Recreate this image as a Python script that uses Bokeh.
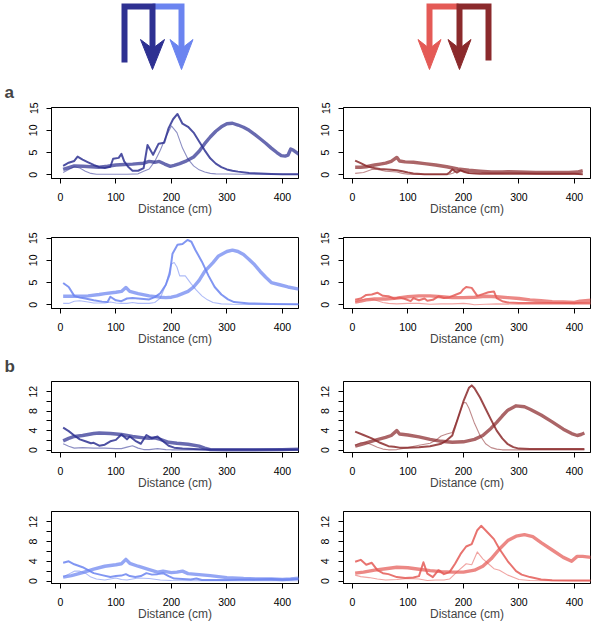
from bokeh.plotting import figure
from bokeh.layouts import column, row
from bokeh.models import Range1d, FixedTicker, Label
from bokeh.embed import file_html
from bokeh.resources import INLINE

# ---------------- data (distance in cm, value) ----------------
# section a, dark blue (top-left)
a_db_thick_x = [5,15,25,40,55,70,85,100,115,130,140,150,160,170,178,188,198,205,215,225,240,250,260,270,280,290,300,310,320,330,340,350,360,370,380,390,398,405,410,415,420,430]
a_db_thick_y = [1.2,1.6,2.0,1.9,1.8,1.7,1.9,2.2,2.3,2.4,2.5,2.6,3.0,2.8,3.0,2.4,1.9,2.1,2.5,3.0,4.0,5.3,7.0,8.5,9.8,10.8,11.5,11.6,11.2,10.7,10.0,9.1,8.1,7.1,6.0,5.0,4.3,4.2,4.4,5.8,5.5,4.6]
a_db_mid_x = [5,15,25,31,40,50,60,70,80,90,95,105,110,115,122,130,140,150,157,167,177,187,195,203,211,220,230,240,250,260,270,280,290,300,310,320,340,360,380,400,430]
a_db_mid_y = [2.0,2.7,3.1,4.1,3.4,2.8,2.2,1.7,1.5,1.8,3.6,3.8,4.7,3.0,1.8,0.9,0.9,1.5,6.7,4.5,7.0,7.2,10.5,12.5,13.7,11.5,10.8,9.5,7.5,5.5,3.7,2.5,1.7,1.2,0.9,0.7,0.4,0.25,0.15,0.1,0.1]
a_db_thin_x = [5,15,25,35,45,55,65,80,100,120,140,150,160,170,180,190,200,210,220,230,240,250,260,270,280,300,330,360,400,430]
a_db_thin_y = [0.5,1.2,1.8,1.5,0.8,0.3,0.1,0.1,0.1,0.1,0.2,0.8,1.3,3.0,5.5,8.5,11.0,9.5,6.0,3.5,2.0,1.1,0.6,0.3,0.2,0.15,0.1,0.1,0.1,0.1]

# section a, dark red (top-right)
a_dr_thick_x = [5,15,25,40,50,60,70,80,85,95,110,130,150,170,190,210,230,250,270,280,300,330,360,390,405,415]
a_dr_thick_y = [1.7,1.7,1.8,2.2,2.4,2.6,3.0,3.9,3.1,2.9,2.8,2.5,2.2,1.8,1.3,1.0,0.8,0.6,0.6,0.7,0.6,0.5,0.5,0.5,0.6,0.9]
a_dr_mid_x = [5,15,25,35,50,70,80,90,100,110,130,150,170,175,180,188,195,202,210,230,250,280,300,350,400,415]
a_dr_mid_y = [3.2,2.6,2.0,1.6,1.3,1.1,1.0,0.8,0.5,0.3,0.1,0.1,0.1,0.5,1.2,0.5,1.0,0.6,0.4,0.3,0.3,0.3,0.3,0.2,0.2,0.1]
a_dr_thin_x = [5,20,35,45,60,80,90,100,120,150,175,182,190,200,210,230,260,300,350,415]
a_dr_thin_y = [0.3,0.5,1.2,1.2,0.8,0.6,0.3,0.1,0.05,0.05,0.1,0.4,1.1,0.8,0.3,0.1,0.1,0.1,0.1,0.1]

# section a, light blue (bottom-left)
a_lb_thick_x = [5,20,40,50,70,80,100,110,118,125,140,160,180,190,200,210,220,230,240,250,260,275,285,300,310,320,330,340,350,360,370,380,395,410,430]
a_lb_thick_y = [1.9,1.9,1.9,2.0,2.3,2.5,2.8,3.0,3.9,3.0,2.5,2.0,1.7,1.6,1.7,2.0,2.5,3.0,4.0,5.5,7.5,9.5,11.0,12.0,12.3,12.0,11.3,10.2,9.0,7.5,6.2,5.0,4.5,4.0,3.5]
a_lb_mid_x = [5,15,25,35,45,60,75,85,90,100,110,120,130,140,150,160,170,180,190,197,202,211,220,229,236,243,255,267,278,290,302,313,340,380,430]
a_lb_mid_y = [4.9,4.0,2.0,1.6,1.4,1.0,0.7,0.6,1.8,1.0,0.8,1.4,1.5,1.4,1.3,1.2,1.7,2.6,4.5,6.9,11.5,13.5,13.7,14.6,14.2,12.4,9.7,6.5,4.0,2.3,1.2,0.6,0.3,0.15,0.1]
a_lb_thin_x = [5,15,25,35,50,60,80,90,100,110,120,130,140,160,170,180,190,200,205,210,215,225,235,245,255,265,275,290,310,350,430]
a_lb_thin_y = [0.3,0.3,0.8,0.9,0.6,0.4,0.4,0.6,0.4,0.3,0.3,0.5,0.3,0.3,0.5,1.5,4.5,9.2,9.5,8.5,6.5,6.5,4.8,3.3,2.0,1.1,0.5,0.2,0.1,0.05,0.05]

# section a, light red (bottom-right)
a_lr_thick_x = [5,15,25,40,60,80,100,120,140,160,180,200,220,240,260,280,300,320,340,360,380,400,410,430]
a_lr_thick_y = [0.6,0.8,1.1,1.3,1.3,1.5,1.8,2.0,2.0,1.8,1.6,1.6,1.7,1.9,1.8,1.6,1.4,1.1,0.9,0.7,0.6,0.5,0.8,1.0]
a_lr_mid_x = [5,15,25,35,45,55,65,75,85,95,105,110,120,130,135,145,155,165,175,185,195,200,205,215,225,235,245,255,260,270,280,300,340,400,430]
a_lr_mid_y = [1.1,1.4,2.2,2.3,2.7,2.0,1.9,1.4,1.6,1.3,0.8,1.5,1.0,1.4,0.9,1.1,1.9,1.5,1.7,2.2,2.7,3.5,4.0,3.8,2.0,2.4,2.8,3.0,1.5,0.8,0.5,0.4,0.4,0.4,0.4]
a_lr_thin_x = [5,15,25,35,45,55,65,80,100,120,140,160,180,200,210,220,240,260,300,350,430]
a_lr_thin_y = [0.6,1.0,1.3,1.3,0.9,0.5,0.3,0.2,0.3,0.3,0.1,0.2,0.2,0.3,0.2,0.0,0.1,0.2,0.1,0.1,0.1]

# section b, dark blue (top-left)
b_db_thick_x = [5,15,25,40,60,70,90,110,130,150,160,170,180,195,210,230,250,260,270,300,350,400,430]
b_db_thick_y = [1.9,2.4,2.8,3.0,3.4,3.5,3.4,3.2,2.8,2.5,2.4,2.5,2.2,1.6,1.4,1.2,0.8,0.4,0.1,0.05,0.05,0.1,0.2]
b_db_mid_x = [5,15,25,35,45,55,60,70,80,90,100,110,120,125,135,145,155,165,175,185,195,205,220,240,260,300,350,430]
b_db_mid_y = [4.6,3.9,3.0,2.2,1.8,1.4,1.5,0.9,1.1,1.8,2.1,3.2,2.2,2.8,1.9,1.3,3.1,2.4,2.8,1.8,0.9,0.5,0.3,0.2,0.1,0.1,0.1,0.1]
b_db_thin_x = [5,15,25,40,60,80,100,110,120,130,140,150,160,175,190,200,250,300,430]
b_db_thin_y = [1.3,0.8,0.4,0.5,0.4,0.4,0.3,0.3,0.6,0.9,0.4,0.1,0.1,0.3,0.1,0.05,0.05,0.05,0.05]

# section b, dark red (top-right)
b_dr_thick_x = [5,20,40,60,70,80,85,100,120,140,160,180,200,220,235,250,260,270,280,295,310,320,340,360,380,395,405,412,418]
b_dr_thick_y = [0.8,1.3,2.0,2.6,3.0,4.0,3.3,3.1,2.7,2.2,1.8,1.6,1.7,2.2,3.0,4.5,5.7,7.0,8.2,9.1,8.9,8.4,7.2,5.8,4.3,3.4,3.0,3.2,3.5]
b_dr_mid_x = [5,20,35,50,65,75,85,100,120,140,160,170,180,190,200,210,215,220,230,240,250,260,270,280,290,300,320,350,380,418]
b_dr_mid_y = [3.8,3.1,2.4,1.5,0.8,0.7,0.5,0.5,0.6,0.8,1.3,2.0,3.0,6.5,10.0,12.8,13.3,12.7,10.8,8.5,6.2,4.0,2.4,1.2,0.6,0.3,0.2,0.2,0.2,0.2]
b_dr_thin_x = [5,15,25,35,45,55,65,80,100,120,140,150,160,170,180,190,200,205,210,220,230,240,250,260,270,300,350,418]
b_dr_thin_y = [1.0,1.5,1.5,1.1,0.6,0.2,0.05,0.1,0.5,1.0,1.4,2.0,2.9,3.3,3.6,6.5,9.8,9.7,8.6,5.5,3.0,1.3,0.5,0.2,0.05,0.05,0.05,0.05]

# section b, light blue (bottom-left)
b_lb_thick_x = [5,20,40,60,80,100,110,118,125,140,160,175,185,200,210,220,230,250,270,300,330,360,380,400,415,430]
b_lb_thick_y = [0.8,1.1,1.7,2.4,3.0,3.3,3.5,4.4,3.6,3.0,2.3,1.8,2.0,1.7,1.8,2.0,1.5,1.3,1.1,0.7,0.5,0.4,0.4,0.3,0.4,0.6]
b_lb_mid_x = [5,15,25,40,50,60,75,90,100,110,118,125,135,145,155,165,175,185,195,205,220,235,245,255,270,300,340,380,400,430]
b_lb_mid_y = [3.7,4.0,3.4,2.8,2.2,1.6,1.2,0.8,1.0,1.1,1.4,1.0,0.8,1.0,1.6,1.3,1.4,1.6,1.0,0.5,0.4,0.3,0.5,0.2,0.2,0.2,0.3,0.4,0.3,0.4]
b_lb_thin_x = [5,15,25,35,45,55,65,80,100,110,120,140,160,180,200,250,300,430]
b_lb_thin_y = [0.8,1.4,2.0,2.0,1.6,0.8,0.4,0.2,0.6,0.3,0.2,0.6,0.5,0.2,0.1,0.05,0.05,0.05]

# section b, light red (bottom-right)
b_lr_thick_x = [5,20,40,60,80,100,120,140,160,180,200,220,235,250,265,280,295,310,325,340,360,380,395,405,415,430]
b_lr_thick_y = [1.6,1.8,2.2,2.5,2.8,2.7,2.4,2.1,1.9,1.8,1.8,2.2,3.0,4.5,6.5,8.2,9.1,9.4,9.0,7.8,6.3,4.8,4.0,5.0,5.0,4.8]
b_lr_mid_x = [5,15,25,35,45,55,65,80,95,110,120,128,135,145,155,165,175,185,195,205,215,225,232,245,255,265,280,295,305,320,340,360,400,430]
b_lr_mid_y = [3.9,4.3,3.3,3.7,2.2,1.6,1.4,0.8,0.6,0.7,1.0,3.8,1.5,0.8,2.2,1.4,1.8,3.5,5.5,7.0,7.5,10.3,11.2,9.7,8.5,6.5,4.0,2.0,1.3,0.8,0.3,0.15,0.1,0.1]
b_lr_thin_x = [5,15,30,45,60,80,100,120,135,150,165,175,190,205,215,225,235,245,255,265,280,300,320,360,430]
b_lr_thin_y = [1.2,0.9,0.7,0.4,0.2,0.3,0.5,0.4,0.1,0.2,0.2,0.4,2.0,3.5,3.3,5.9,4.5,3.5,2.5,2.2,1.2,0.3,0.1,0.05,0.05]

# axis ticks
x_ticks = [0, 100, 200, 300, 400]
a_y_ticks = [0, 5, 10, 15]
b_y_ticks = [0, 2, 4, 6, 8, 10, 12]
b_y_hidden = [2, 6, 10]

# panel letters
section_letters = ["a", "b"]

# colours
DARK_BLUE = "#2e3192"
LIGHT_BLUE = "#6b84f0"
DARK_RED = "#8b2a2c"
LIGHT_RED = "#e45a56"

# arrow icon geometry (pixels in the icon strip)
icon_dark_blue_path = ([124, 124, 152, 152], [62, 6, 6, 50])
icon_dark_blue_head = ([140, 152, 164, 152], [39, 48, 39, 69])
icon_light_blue_path = ([152, 181, 181], [6, 6, 50])
icon_light_blue_head = ([169.5, 181, 192.5, 181], [39, 48, 39, 69])
icon_light_red_path = ([458, 429, 429], [6, 6, 50])
icon_light_red_head = ([417.5, 429, 440.5, 429], [39, 48, 39, 69])
icon_dark_red_path = ([488, 488, 459, 459], [60, 6, 6, 50])
icon_dark_red_head = ([447.5, 459, 470.5, 459], [39, 48, 39, 69])

FONT = "Liberation Sans"
W = 592


def strip(height):
    s = figure(width=W, height=height, x_range=Range1d(0, W), y_range=Range1d(height, 0),
               output_backend="svg", toolbar_location=None,
               x_axis_location=None, y_axis_location=None,
               min_border_left=0, min_border_right=0, min_border_top=0, min_border_bottom=0)
    s.grid.visible = False
    s.outline_line_color = None
    return s


def letter(s, txt, x, y):
    s.add_layout(Label(x=x, y=y, text=txt, text_font=FONT, text_font_style="bold",
                       text_font_size="17px", text_align="left", text_baseline="middle"))


# ---------------- icon strip + "a" ----------------
top = strip(101)
for path, head, col in [(icon_light_blue_path, icon_light_blue_head, LIGHT_BLUE),
                        (icon_dark_blue_path, icon_dark_blue_head, DARK_BLUE),
                        (icon_light_red_path, icon_light_red_head, LIGHT_RED),
                        (icon_dark_red_path, icon_dark_red_head, DARK_RED)]:
    top.line(path[0], path[1], line_color=col, line_width=6, line_join="miter", line_cap="butt")
    top.patch(head[0], head[1], fill_color=col, line_color=col, line_width=1)
letter(top, section_letters[0], 4, 91.5)

# ---------------- "b" strip ----------------
bstrip = strip(27)
letter(bstrip, section_letters[1], 4, 17.5)


def panel(series, color, yr, yticks, hidden, left, height, btop, bbot):
    if left:
        w, bl, br = 317, 51, 19
    else:
        w, bl, br = 275, 26, 2
    p = figure(width=w, height=height, x_range=Range1d(-16, 429), y_range=Range1d(*yr),
               output_backend="svg", toolbar_location=None,
               min_border_left=bl, min_border_right=br, min_border_top=btop, min_border_bottom=bbot)
    p.grid.visible = False
    p.outline_line_color = "black"
    p.outline_line_width = 1
    p.outline_line_alpha = 1
    (tx, ty), (mx, my), (nx, ny) = series
    p.line(nx, ny, line_color=color, line_width=1.1, line_alpha=0.55, line_join="round")
    p.line(mx, my, line_color=color, line_width=2.0, line_alpha=0.85, line_join="round")
    p.line(tx, ty, line_color=color, line_width=3.4, line_alpha=0.72, line_join="round")

    xa = p.xaxis[0]
    xa.ticker = FixedTicker(ticks=x_ticks)
    xa.axis_label = "Distance (cm)"
    xa.axis_label_text_font = FONT
    xa.axis_label_text_font_size = "12px"
    xa.axis_label_text_font_style = "normal"
    xa.axis_label_standoff = -2
    xa.major_label_standoff = 9
    ya = p.yaxis[0]
    ya.ticker = FixedTicker(ticks=yticks)
    ya.major_label_overrides = {h: "" for h in hidden}
    ya.major_label_orientation = "vertical"
    ya.major_label_standoff = 9
    for ax in (xa, ya):
        ax.major_label_text_font = FONT
        ax.major_label_text_font_size = "10.5px"
        ax.major_label_text_color = "black"
        ax.major_tick_out = 5
        ax.major_tick_in = 0
        ax.minor_tick_out = 0
        ax.minor_tick_in = 0
        ax.axis_line_color = "black"
        ax.major_tick_line_color = "black"
    return p


a_yr = (-0.85, 15.15)
b_yr = (-0.5, 14.1)

p_a1l = panel([(a_db_thick_x, a_db_thick_y), (a_db_mid_x, a_db_mid_y), (a_db_thin_x, a_db_thin_y)],
              DARK_BLUE, a_yr, a_y_ticks, [], True, 117, 6, 37)
p_a1r = panel([(a_dr_thick_x, a_dr_thick_y), (a_dr_mid_x, a_dr_mid_y), (a_dr_thin_x, a_dr_thin_y)],
              DARK_RED, a_yr, a_y_ticks, [], False, 117, 6, 37)
p_a2l = panel([(a_lb_thick_x, a_lb_thick_y), (a_lb_mid_x, a_lb_mid_y), (a_lb_thin_x, a_lb_thin_y)],
              LIGHT_BLUE, a_yr, a_y_ticks, [], True, 130, 19, 37)
p_a2r = panel([(a_lr_thick_x, a_lr_thick_y), (a_lr_mid_x, a_lr_mid_y), (a_lr_thin_x, a_lr_thin_y)],
              LIGHT_RED, a_yr, a_y_ticks, [], False, 130, 19, 37)
p_b1l = panel([(b_db_thick_x, b_db_thick_y), (b_db_mid_x, b_db_mid_y), (b_db_thin_x, b_db_thin_y)],
              DARK_BLUE, b_yr, b_y_ticks, b_y_hidden, True, 117, 6, 37)
p_b1r = panel([(b_dr_thick_x, b_dr_thick_y), (b_dr_mid_x, b_dr_mid_y), (b_dr_thin_x, b_dr_thin_y)],
              DARK_RED, b_yr, b_y_ticks, b_y_hidden, False, 117, 6, 37)
p_b2l = panel([(b_lb_thick_x, b_lb_thick_y), (b_lb_mid_x, b_lb_mid_y), (b_lb_thin_x, b_lb_thin_y)],
              LIGHT_BLUE, b_yr, b_y_ticks, b_y_hidden, True, 131, 19, 38)
p_b2r = panel([(b_lr_thick_x, b_lr_thick_y), (b_lr_mid_x, b_lr_mid_y), (b_lr_thin_x, b_lr_thin_y)],
              LIGHT_RED, b_yr, b_y_ticks, b_y_hidden, False, 131, 19, 38)

layout = column(top, row(p_a1l, p_a1r), row(p_a2l, p_a2r), bstrip,
                row(p_b1l, p_b1r), row(p_b2l, p_b2r))

open("out.html", "w").write(file_html(layout, INLINE))
